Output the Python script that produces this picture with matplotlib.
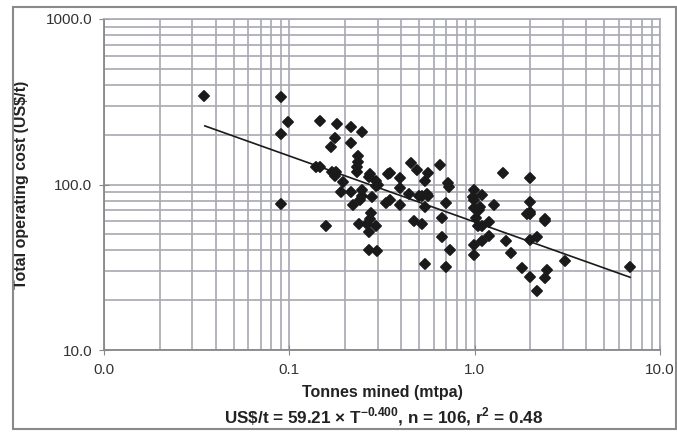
import matplotlib
matplotlib.use("Agg")
import matplotlib.pyplot as plt
from matplotlib.patches import Rectangle
from matplotlib.markers import MarkerStyle

# tonnes mined (mtpa) and total operating cost (US$/t)
tonnes = [0.0347, 0.090, 0.090, 0.0987, 0.090, 0.147, 0.180, 0.177, 0.168, 0.216,
          0.216, 0.246, 0.236, 0.139, 0.147, 0.169, 0.178, 0.176, 0.196, 0.233,
          0.231, 0.272, 0.269, 0.295, 0.295, 0.340, 0.349, 0.394, 0.394, 0.452,
          0.490, 0.563, 0.542, 0.650, 0.720, 0.728, 0.995, 1.09, 1.43, 1.98,
          0.191, 0.216, 0.247, 0.247, 0.241, 0.221, 0.280, 0.334, 0.349, 0.394,
          0.440, 0.498, 0.520, 0.542, 0.698, 0.995, 0.995, 1.07, 1.27, 1.98,
          1.92, 1.98, 2.40, 2.40, 0.277, 0.274, 0.237, 0.158, 0.264, 0.270,
          0.295, 0.469, 0.520, 0.668, 1.02, 1.04, 1.20, 1.09, 1.19, 1.09,
          0.995, 0.670, 1.47, 1.98, 2.17, 1.57, 0.995, 0.736, 0.268, 0.296,
          0.540, 0.700, 1.79, 2.45, 3.08, 1.98, 2.39, 2.18, 6.92, 0.235,
          0.985, 1.05, 0.30, 0.56, 0.55, 2.0]
cost = [342, 336, 201, 237, 76.5, 243, 231, 190, 169, 222,
        178, 207, 149, 128, 127, 119, 119, 112, 104, 128,
        119, 116, 111, 105, 97.7, 116, 117, 110, 95.5, 134,
        122, 117, 105, 131, 102, 97, 92, 86, 117, 109,
        89.5, 90, 93, 85, 81, 75, 84, 77.6, 81, 75,
        88, 85, 85, 72.8, 77, 81, 72.4, 72.8, 75.5, 78.3,
        66.7, 66.7, 62.2, 60.3, 67, 62, 57.8, 56, 58, 52,
        56, 60, 57.5, 62.5, 62.7, 56, 59, 56, 49, 45.7,
        42.9, 48, 45.8, 46, 48.3, 38.4, 37.7, 40.4, 40.4, 39.4,
        33, 31.6, 31.4, 30.5, 34.7, 27.7, 27.4, 22.6, 31.6, 136,
        84, 70, 100, 85, 88, 68]

# regression line end points
fit_x = [0.035, 6.9]
fit_y = [226, 27.5]

x_ticks = [0.01, 0.1, 1, 10]
x_labels = ["0.0", "0.1", "1.0", "10.0"]
y_ticks = [10, 100, 1000]
y_labels = ["10.0", "100.0", "1000.0"]

plt.rcParams["font.family"] = ["Liberation Sans", "DejaVu Sans"]
plt.rcParams["mathtext.fontset"] = "custom"
plt.rcParams["mathtext.rm"] = "Liberation Sans:bold"
plt.rcParams["mathtext.bf"] = "Liberation Sans:bold"

grid_col = "#a8a9b2"
ink = "#1a1a1a"

fig = plt.figure(figsize=(6.77, 4.33), dpi=100)
ax = fig.add_axes([104 / 677, 1 - 350 / 433, 556 / 677, 331 / 433])

ax.set_xscale("log")
ax.set_yscale("log")
ax.set_xlim(0.01, 10)
ax.set_ylim(10, 1000)

ax.grid(True, which="both", color=grid_col, linewidth=1.2)
ax.set_axisbelow(True)

ax.plot(fit_x, fit_y, color=ink, linewidth=1.2, zorder=3)
ax.plot(tonnes, cost, linestyle="none",
        marker=MarkerStyle("D", joinstyle="round"), markersize=5.2,
        color=ink, markeredgecolor=ink, markeredgewidth=1.4, zorder=4)

ax.set_xticks(x_ticks, x_labels)
ax.set_yticks(y_ticks, y_labels)
ax.tick_params(which="major", direction="inout", length=7, color="#888888",
               labelsize=11, labelcolor="#333333")
ax.tick_params(which="minor", length=0)
ax.tick_params(axis="x", pad=6)
ax.tick_params(axis="y", pad=5)

for side in ["left", "bottom"]:
    ax.spines[side].set_color("#888888")
    ax.spines[side].set_linewidth(1.3)
for side in ["top", "right"]:
    ax.spines[side].set_color(grid_col)
    ax.spines[side].set_linewidth(1.2)

ax.set_ylabel("Total operating cost (US$/t)", fontsize=11.5, fontweight="bold",
              color="#222222")
ax.yaxis.set_label_coords(-0.135, 0.5)

fig.text(0.565, 1 - 392 / 433, "Tonnes mined (mtpa)", fontsize=11.5,
         fontweight="bold", color="#222222", ha="center", va="center")
fig.text(0.567, 1 - 417 / 433,
         r"US\$/t = 59.21 $\times$ T$^{-0.400}$, n = 106, r$^{2}$ = 0.48",
         fontsize=12.3, fontweight="bold", color="#222222",
         ha="center", va="center")

fig.patches.append(Rectangle((13 / 677, 1 - 429 / 433), 663 / 677, 422 / 433,
                             transform=fig.transFigure, fill=False,
                             edgecolor="#8a8a8a", linewidth=1.5))

fig.savefig("out.png", dpi=100)
